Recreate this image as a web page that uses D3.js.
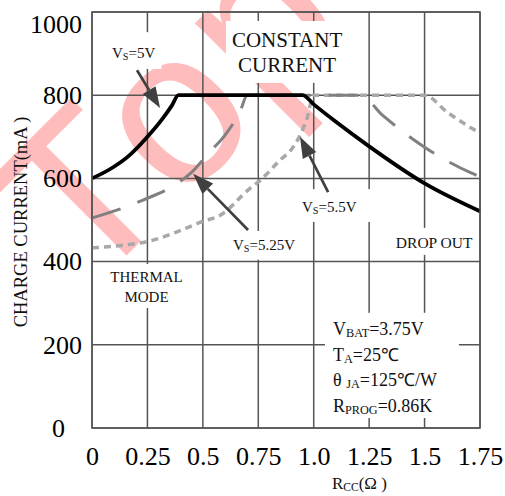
<!DOCTYPE html>
<html>
<head>
<meta charset="utf-8">
<script src="https://cdn.jsdelivr.net/npm/d3@7"></script>
<style>
  html, body { margin: 0; padding: 0; background: #fff; }
  svg { display: block; font-family: "Liberation Serif", "Times New Roman", serif; }
</style>
</head>
<body>
<svg id="chart" width="505" height="496"></svg>
<script>
// Axis ticks
const xTicks = [0, 0.25, 0.5, 0.75, 1.0, 1.25, 1.5, 1.75];
const xTickLabels = ["0", "0.25", "0.5", "0.75", "1.0", "1.25", "1.5", "1.75"];
const yTicks = [0, 200, 400, 600, 800, 1000];

// Charge current (mA) against RCC (ohm) for each supply voltage
const rcc5V     = [0, 0.09, 0.17, 0.25, 0.32, 0.36, 0.39, 0.6, 0.95, 1.0, 1.1, 1.25, 1.5, 1.75];
const current5V = [600, 625, 656, 700, 745, 775, 800, 800, 800, 778, 736, 677, 588, 521];

const rcc525V     = [0, 0.14, 0.23, 0.35, 0.45, 0.53, 0.6, 0.67, 0.7, 1.0, 1.21, 1.31, 1.5, 1.71, 1.75];
const current525V = [505, 529, 548, 577, 615, 663, 704, 764, 800, 800, 800, 752, 675, 613, 604];

const rcc55V     = [0, 0.15, 0.25, 0.4, 0.49, 0.58, 0.71, 0.76, 0.85, 0.9, 0.93, 0.97, 1.0, 1.25, 1.5, 1.6, 1.675, 1.75];
const current55V = [433, 440, 448, 475, 495, 512, 575, 596, 645, 670, 695, 745, 800, 800, 800, 760, 733, 709];

// Annotation arrows: tail and tip, in data units
const arrowTails = [[0.203, 860], [0.704, 476], [1.065, 567]];
const arrowTips  = [[0.307, 769], [0.456, 611], [0.938, 700]];

const W = 505, H = 496;
const margin = { top: 12, right: 25, bottom: 68, left: 92 };

const svg = d3.select("#chart");
svg.append("rect").attr("width", W).attr("height", H).attr("fill", "#fff");

const x = d3.scaleLinear().domain([0, 1.75]).range([margin.left, W - margin.right]);
const y = d3.scaleLinear().domain([0, 1000]).range([H - margin.bottom, margin.top]);

// Faint red "Top" stamp lying diagonally across the upper left
svg.append("text")
  .attr("transform", "translate(86.4,295.4) rotate(-45)")
  .attr("font-family", "Liberation Sans, Arial, sans-serif")
  .attr("font-size", 219)
  .attr("fill", "#ffbcbc")
  .attr("dx", "0 -5.5 4.7")
  .attr("dy", "0 3 -3")
  .style("font-kerning", "none")
  .text("Top");

// Grid
const gridColor = "#555";
svg.append("g").selectAll("line").data(xTicks).join("line")
  .attr("x1", d => x(d)).attr("x2", d => x(d))
  .attr("y1", y(0)).attr("y2", y(1000))
  .attr("stroke", gridColor).attr("stroke-width", 1.5);
svg.append("g").selectAll("line").data(yTicks).join("line")
  .attr("x1", x(0)).attr("x2", x(1.75))
  .attr("y1", d => y(d)).attr("y2", d => y(d))
  .attr("stroke", gridColor).attr("stroke-width", 1.5);

// Text annotations (parts flagged 1 are subscripts)
const annotations = [
  { at: [0.09, 889], anchor: "start", size: 15, lines: [[["V"], ["S", 1], ["=5V"]]], pad: [6, 13, 6, 7] },
  { at: [0.636, 428], anchor: "start", size: 15, lines: [[["V"], ["S", 1], ["=5.25V"]]], pad: [3, 6, 3, 6] },
  { at: [0.947, 519], anchor: "start", size: 15, lines: [[["V"], ["S", 1], ["=5.5V"]]], pad: [4, 10, 14, 6] },
  { at: [0.88, 916], anchor: "middle", size: 21, lead: 25, lines: [[["CONSTANT"]], [["CURRENT"]]], pad: [6, 7, 4, 6] },
  { at: [0.246, 351], anchor: "middle", size: 15, lead: 20, lines: [[["THERMAL"]], [["MODE"]]], pad: [6, 5, 6, 3] },
  { at: [1.543, 433], anchor: "middle", size: 15.5, lines: [[["DROP OUT"]]], pad: [6, 6, 6, 4] },
  { at: [1.087, 224], anchor: "start", size: 18, lead: 25.7, lines: [
      [["V"], ["BAT", 1], ["=3.75V"]],
      [["T"], ["A", 1], ["=25℃"]],
      [["θ "], ["JA", 1], ["=125℃/W"]],
      [["R"], ["PROG", 1], ["=0.86K"]]
    ], pad: [8, 6, 22, 1] }
];

const boxLayer = svg.append("g");
const curveLayer = svg.append("g");
const arrowLayer = svg.append("g");
const textLayer = svg.append("g");

annotations.forEach(a => {
  const g = textLayer.append("g");
  a.lines.forEach((parts, i) => {
    const t = g.append("text")
      .attr("x", x(a.at[0]))
      .attr("y", y(a.at[1]) + i * (a.lead || 0))
      .attr("text-anchor", a.anchor)
      .attr("font-size", a.size)
      .attr("fill", "#111");
    parts.forEach(p => {
      const ts = t.append("tspan").text(p[0]);
      if (p[1]) ts.attr("font-size", a.size * 0.68).attr("dy", a.size * 0.12);
      else if (t.selectAll("tspan").size() > 1) ts.attr("dy", -a.size * 0.12);
    });
  });
  const b = g.node().getBBox();
  boxLayer.append("rect")
    .attr("x", b.x - a.pad[0]).attr("y", b.y - a.pad[1])
    .attr("width", b.width + a.pad[0] + a.pad[2])
    .attr("height", b.height + a.pad[1] + a.pad[3])
    .attr("fill", "#fff");
});

// Curves
const line = d3.line().x(d => x(d[0])).y(d => y(d[1])).curve(d3.curveMonotoneX);
const series = [
  { rcc: rcc55V, cur: current55V, color: "#a8a8a8", width: 3.5, dash: "7,5" },
  { rcc: rcc525V, cur: current525V, color: "#808080", width: 3, dash: "30,18" },
  { rcc: rcc5V, cur: current5V, color: "#000", width: 3.8, dash: null }
];
series.forEach(s => {
  curveLayer.append("path")
    .datum(d3.zip(s.rcc, s.cur))
    .attr("d", line)
    .attr("fill", "none")
    .attr("stroke", s.color)
    .attr("stroke-width", s.width)
    .attr("stroke-dasharray", s.dash);
});

// Pointer arrows
arrowTails.forEach((tail, i) => {
  const tip = arrowTips[i];
  const x0 = x(tail[0]), y0 = y(tail[1]), x1 = x(tip[0]), y1 = y(tip[1]);
  const len = Math.hypot(x1 - x0, y1 - y0);
  const ux = (x1 - x0) / len, uy = (y1 - y0) / len;
  const hl = 21, hw = 7.5;
  const bx = x1 - ux * hl, by = y1 - uy * hl;
  arrowLayer.append("line")
    .attr("x1", x0).attr("y1", y0).attr("x2", bx).attr("y2", by)
    .attr("stroke", "#404040").attr("stroke-width", 2.7);
  arrowLayer.append("path")
    .attr("d", `M${x1},${y1}L${bx - uy * hw},${by + ux * hw}L${bx + uy * hw},${by - ux * hw}Z`)
    .attr("fill", "#404040");
});

// Plot frame
svg.append("rect")
  .attr("x", x(0)).attr("y", y(1000))
  .attr("width", x(1.75) - x(0)).attr("height", y(0) - y(1000))
  .attr("fill", "none").attr("stroke", gridColor).attr("stroke-width", 1.5);

// Axes
const yAxis = svg.append("g")
  .attr("transform", `translate(${margin.left},0)`)
  .call(d3.axisLeft(y).tickValues(yTicks).tickFormat(d3.format("d")).tickSize(0).tickPadding(10));
yAxis.select(".domain").remove();
yAxis.selectAll(".tick text")
  .attr("font-family", "Liberation Serif, Times New Roman, serif")
  .attr("font-size", 26).attr("fill", "#000")
  .attr("x", d => d === 0 ? -27 : -10)
  .attr("dy", d => d === 1000 ? "0.78em" : "0.32em");

const xAxis = svg.append("g")
  .attr("transform", `translate(0,${H - margin.bottom})`)
  .call(d3.axisBottom(x).tickValues(xTicks).tickFormat((d, i) => xTickLabels[i]).tickSize(0));
xAxis.select(".domain").remove();
xAxis.selectAll(".tick text")
  .attr("font-family", "Liberation Serif, Times New Roman, serif")
  .attr("font-size", 26).attr("fill", "#000")
  .attr("y", 37).attr("dy", 0);

// Axis titles
svg.append("text")
  .attr("transform", `translate(27,${(y(0) + y(1000)) / 2 + 2}) rotate(-90)`)
  .attr("text-anchor", "middle")
  .attr("font-size", 18.5)
  .attr("fill", "#111")
  .text("CHARGE CURRENT(mA )");

const xTitle = svg.append("text")
  .attr("x", 332).attr("y", 489)
  .attr("font-size", 17)
  .attr("fill", "#111");
xTitle.append("tspan").text("R");
xTitle.append("tspan").text("CC").attr("font-size", 11.5).attr("dy", 2);
xTitle.append("tspan").text("(Ω )").attr("dy", -2);
</script>
</body>
</html>
